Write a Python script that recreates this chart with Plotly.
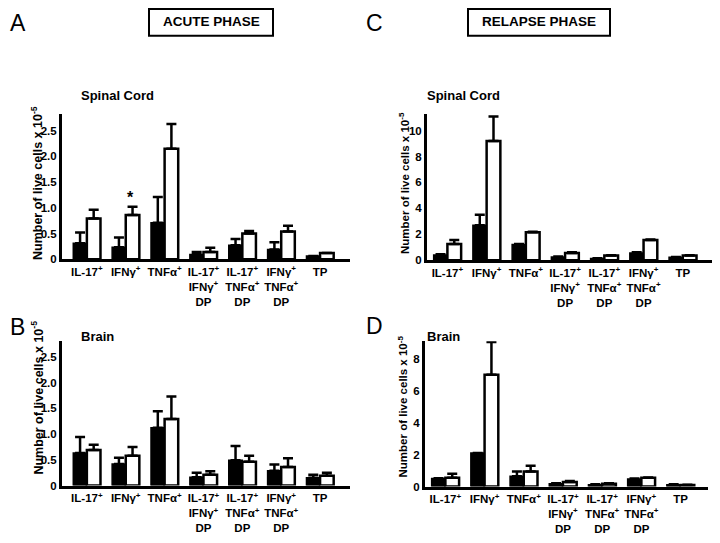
import plotly.graph_objects as go

# The page body has an 8px default margin; the figure is sized and positioned to compensate.
OFF = 8
W, H = 720 - OFF, 543 - OFF

categories = ["IL-17<sup>+</sup>", "IFNγ<sup>+</sup>", "TNFα<sup>+</sup>",
              "IL-17<sup>+</sup><br>IFNγ<sup>+</sup><br>DP",
              "IL-17<sup>+</sup><br>TNFα<sup>+</sup><br>DP",
              "IFNγ<sup>+</sup><br>TNFα<sup>+</sup><br>DP",
              "TP"]

# Acute phase - spinal cord
acute_sc_black = [0.31, 0.23, 0.71, 0.09, 0.27, 0.19, 0.06]
acute_sc_black_err = [0.21, 0.19, 0.50, 0.05, 0.12, 0.14, 0.0]
acute_sc_white = [0.79, 0.86, 2.15, 0.14, 0.50, 0.54, 0.12]
acute_sc_white_err = [0.17, 0.16, 0.48, 0.08, 0.05, 0.11, 0.0]

# Acute phase - brain
acute_br_black = [0.63, 0.42, 1.12, 0.16, 0.49, 0.29, 0.15]
acute_br_black_err = [0.31, 0.12, 0.32, 0.09, 0.28, 0.12, 0.06]
acute_br_white = [0.69, 0.58, 1.29, 0.21, 0.46, 0.36, 0.19]
acute_br_white_err = [0.10, 0.17, 0.44, 0.07, 0.12, 0.17, 0.06]

# Relapse phase - spinal cord
relapse_sc_black = [0.40, 2.70, 1.20, 0.25, 0.12, 0.55, 0.22]
relapse_sc_black_err = [0.05, 0.80, 0.05, 0.03, 0.03, 0.05, 0.03]
relapse_sc_white = [1.25, 9.20, 2.15, 0.55, 0.35, 1.55, 0.35]
relapse_sc_white_err = [0.30, 1.90, 0.05, 0.05, 0.03, 0.05, 0.03]

# Relapse phase - brain
relapse_br_black = [0.50, 2.10, 0.65, 0.18, 0.12, 0.48, 0.12]
relapse_br_black_err = [0.02, 0.0, 0.30, 0.03, 0.03, 0.02, 0.02]
relapse_br_white = [0.55, 7.00, 0.95, 0.28, 0.18, 0.55, 0.10]
relapse_br_white_err = [0.25, 2.05, 0.35, 0.07, 0.03, 0.02, 0.02]

FONT = "Liberation Sans, Arial, sans-serif"

fig = go.Figure()

panels = [
    ("", acute_sc_black, acute_sc_black_err, acute_sc_white, acute_sc_white_err),
    ("2", acute_br_black, acute_br_black_err, acute_br_white, acute_br_white_err),
    ("3", relapse_sc_black, relapse_sc_black_err, relapse_sc_white, relapse_sc_white_err),
    ("4", relapse_br_black, relapse_br_black_err, relapse_br_white, relapse_br_white_err),
]

for suf, bk, bke, wh, whe in panels:
    for vals, errs, fill, lw in [(bk, bke, "black", 1.5), (wh, whe, "white", 2.5)]:
        fig.add_trace(go.Bar(
            x=categories, y=vals,
            xaxis="x" + suf, yaxis="y" + suf,
            marker=dict(color=fill, line=dict(color="black", width=lw)),
            error_y=dict(type="data", array=errs, arrayminus=[0] * len(errs),
                         symmetric=False, color="black", thickness=2.5, width=5),
            showlegend=False,
        ))


def px_x(p):
    return (p - OFF) / W


def px_y(p):
    return 1 - (p - OFF) / H


xdom = {"": (62, 350), "2": (62, 350), "3": (427, 713), "4": (425, 708)}
ydom = {"": (262, 115), "2": (491, 345), "3": (263, 115), "4": (492, 345)}
yrng = {"": 2.83, "2": 2.8, "3": 11.3, "4": 9.1}
ytv = {
    "": ([0, 0.5, 1.0, 1.5, 2.0, 2.5], ["0", "0.5", "1.0", "1.5", "2.0", "2.5"]),
    "2": ([0, 0.5, 1.0, 1.5, 2.0, 2.5], ["0", "0.5", "1.0", "1.5", "2.0", "2.5"]),
    "3": ([0, 2, 4, 6, 8, 10], ["0", "2", "4", "6", "8", "10"]),
    "4": ([0, 2, 4, 6, 8], ["0", "2", "4", "6", "8"]),
}
xrng = {"": [-0.64, 6.77], "2": [-0.64, 6.77], "3": [-0.52, 6.77], "4": [-0.52, 6.7]}

layout = dict(
    width=W, height=H,
    margin=dict(l=0, r=0, t=0, b=0),
    paper_bgcolor="white", plot_bgcolor="white",
    barmode="group", bargap=0.3, bargroupgap=0,
    font=dict(family=FONT, color="black"),
)

for suf in ["", "2", "3", "4"]:
    layout["xaxis" + suf] = dict(
        domain=[px_x(xdom[suf][0]), px_x(xdom[suf][1])],
        anchor="y" + suf, type="category",
        range=xrng[suf],
        showline=True, linecolor="black", linewidth=3,
        showgrid=False, zeroline=False, ticks="",
        tickfont=dict(family=FONT, size=11.5, weight="bold", color="black"),
        tickangle=0,
    )
    layout["yaxis" + suf] = dict(
        domain=[px_y(ydom[suf][0]), px_y(ydom[suf][1])],
        anchor="x" + suf,
        range=[0, yrng[suf]],
        showline=True, linecolor="black", linewidth=3,
        showgrid=False, zeroline=False, ticks="",
        tickvals=ytv[suf][0], ticktext=ytv[suf][1],
        tickfont=dict(family=FONT, size=11.5, weight="bold", color="black"),
    )

fig.update_layout(**layout)

annotations = []
ytitle = "Number of live cells x 10<sup>-5</sup>"
for (cx, cy, fs) in [(37, 185, 12.5), (37, 402, 12.5), (404, 185, 11.5), (403, 411, 11.5)]:
    annotations.append(dict(
        text=ytitle, textangle=-90, xref="paper", yref="paper",
        x=px_x(cx), y=px_y(cy), xanchor="center", yanchor="middle",
        showarrow=False, font=dict(family=FONT, size=fs, weight="bold", color="black"),
    ))

for txt, cx, cy in [("Spinal Cord", 79, 96), ("Spinal Cord", 425, 96),
                    ("Brain", 79, 340), ("Brain", 425, 340)]:
    annotations.append(dict(
        text=txt, xref="paper", yref="paper", x=px_x(cx), y=px_y(cy),
        xanchor="left", yanchor="middle", showarrow=False,
        font=dict(family=FONT, size=13, weight="bold", color="black"),
    ))

for txt, cx, cy, ya in [("A", 8, 8, "top"), ("C", 364, 8, "top"),
                        ("B", 8, 331, "middle"), ("D", 364, 330, "middle")]:
    annotations.append(dict(
        text=txt, xref="paper", yref="paper", x=px_x(cx), y=px_y(cy),
        xanchor="left", yanchor=ya, showarrow=False,
        font=dict(family=FONT, size=23, color="black"),
    ))

for txt, cx, cy in [("ACUTE PHASE", 211, 22), ("RELAPSE PHASE", 539, 22)]:
    annotations.append(dict(
        text=txt, xref="paper", yref="paper", x=px_x(cx), y=px_y(cy),
        xanchor="center", yanchor="middle", showarrow=False,
        font=dict(family=FONT, size=13.5, weight="bold", color="black"),
    ))

# significance star above IFNγ (white bar) in panel A
annotations.append(dict(
    text="*", xref="x", yref="y", x=1.13, y=0.99,
    xanchor="center", yanchor="bottom", showarrow=False,
    font=dict(family=FONT, size=16, weight="bold", color="black"),
))

shapes = []
for (x0, y0, x1, y1) in [(149, 9, 273, 36), (468, 9, 610, 36)]:
    shapes.append(dict(type="rect", xref="paper", yref="paper",
                       x0=px_x(x0), x1=px_x(x1), y0=px_y(y1), y1=px_y(y0),
                       line=dict(color="black", width=2), fillcolor="rgba(0,0,0,0)"))

fig.update_layout(annotations=annotations, shapes=shapes)

fig.write_html("out.html")
